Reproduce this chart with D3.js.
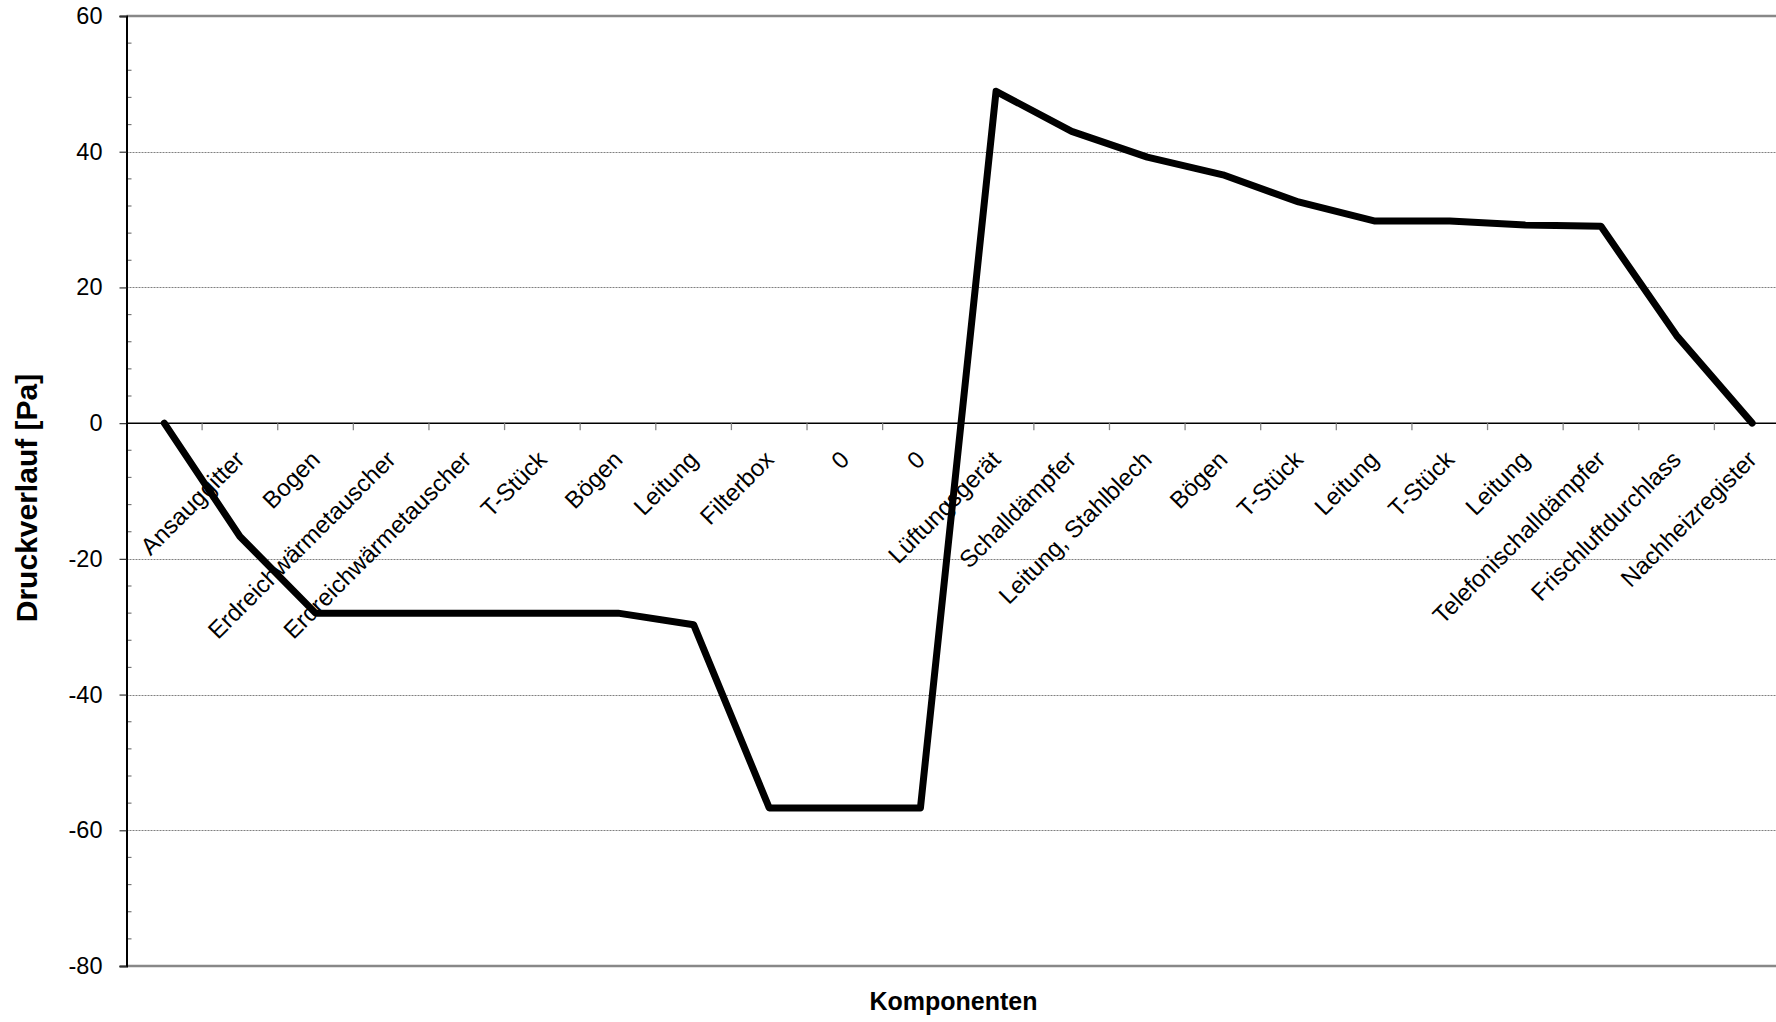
<!DOCTYPE html>
<html>
<head>
<meta charset="utf-8">
<script src="https://cdn.jsdelivr.net/npm/d3@7"></script>
<style>
  html, body { margin: 0; padding: 0; background: #fff; overflow: hidden; }
  svg { display: block; font-family: "Liberation Sans", Arial, sans-serif; }
</style>
</head>
<body>
<svg id="chart" width="1776" height="1022"></svg>
<script>
// ---- data ----
const categories = ["", "Ansauggitter", "Bogen", "Erdreichwärmetauscher", "Erdreichwärmetauscher",
  "T-Stück", "Bögen", "Leitung", "Filterbox", "0", "0", "Lüftungsgerät", "Schalldämpfer",
  "Leitung, Stahlblech", "Bögen", "T-Stück", "Leitung", "T-Stück", "Leitung",
  "Telefonischalldämpfer", "Frischluftdurchlass", "Nachheizregister"];
const pressure = [0, -16.7, -28, -28, -28, -28, -28, -29.7, -56.7, -56.7, -56.7,
  48.9, 43.0, 39.2, 36.6, 32.6, 29.8, 29.8, 29.2, 29.0, 12.9, 0];
const yMajorTicks = [-80, -60, -40, -20, 0, 20, 40, 60];
const yTitle = "Druckverlauf [Pa]";
const xTitle = "Komponenten";

// ---- layout ----
const svg = d3.select("#chart");
const mLeft = 126.5, mRight = 1790, mTop = 16, mBottom = 966;

const x = d3.scaleBand().domain(d3.range(categories.length)).range([mLeft, mRight]).padding(0);
const y = d3.scaleLinear().domain([-80, 60]).range([mBottom, mTop]);
const cx = i => x(i) + x.bandwidth() / 2;

svg.append("rect").attr("width", 1776).attr("height", 1022).attr("fill", "#fff");

// gridlines (dotted)
svg.append("g").selectAll("line")
  .data(yMajorTicks.filter(v => v !== 0 && v !== 60 && v !== -80))
  .join("line")
  .attr("x1", mLeft).attr("x2", mRight)
  .attr("y1", d => Math.round(y(d)) + 0.5).attr("y2", d => Math.round(y(d)) + 0.5)
  .attr("stroke", "#808080").attr("stroke-width", 1).attr("stroke-dasharray", "2,1");

// plot border top/bottom (gray)
svg.append("line").attr("x1", mLeft).attr("x2", mRight).attr("y1", y(60)).attr("y2", y(60))
  .attr("stroke", "#888").attr("stroke-width", 2.5);
svg.append("line").attr("x1", mLeft).attr("x2", mRight).attr("y1", y(-80)).attr("y2", y(-80))
  .attr("stroke", "#888").attr("stroke-width", 2.5);

// minor ticks on y axis (inside, gray)
const minorTicks = d3.range(-80, 60.01, 4).filter(v => v % 20 !== 0);
svg.append("g").selectAll("line").data(minorTicks).join("line")
  .attr("x1", mLeft).attr("x2", mLeft + 5)
  .attr("y1", d => y(d)).attr("y2", d => y(d))
  .attr("stroke", "#777").attr("stroke-width", 1.2);

// y axis
const yAxis = d3.axisLeft(y).tickValues(yMajorTicks).tickSize(7).tickPadding(17)
  .tickFormat(d => d < 0 ? "-" + Math.abs(d) : String(d));
const gy = svg.append("g").attr("transform", `translate(${mLeft},0)`).call(yAxis);
gy.select(".domain").attr("stroke", "#000").attr("stroke-width", 2);
gy.selectAll(".tick line").attr("stroke", "#333").attr("stroke-width", 1.2);
gy.selectAll(".tick text").attr("font-size", 23.5).attr("fill", "#000")
  .attr("font-family", "'Liberation Sans', Arial, sans-serif");

// x axis at zero with ticks at category boundaries
svg.append("line").attr("x1", mLeft).attr("x2", mRight).attr("y1", y(0)).attr("y2", y(0))
  .attr("stroke", "#000").attr("stroke-width", 1.5);
svg.append("g").selectAll("line").data(d3.range(1, categories.length)).join("line")
  .attr("x1", d => x(d)).attr("x2", d => x(d))
  .attr("y1", y(0)).attr("y2", y(0) + 7)
  .attr("stroke", "#888").attr("stroke-width", 1.3);

// category labels (rotated -45)
svg.append("g").selectAll("text").data(categories).join("text")
  .attr("transform", (d, i) => `translate(${cx(i)},${y(0) + 32}) rotate(-45)`)
  .attr("text-anchor", "end")
  .attr("dy", "0.35em")
  .attr("font-size", 24)
  .attr("fill", "#000")
  .text(d => d);

// data line
const line = d3.line().x((d, i) => cx(i)).y(d => y(d));
svg.append("path").datum(pressure)
  .attr("d", line)
  .attr("fill", "none").attr("stroke", "#000").attr("stroke-width", 7)
  .attr("stroke-linejoin", "round").attr("stroke-linecap", "round");

// titles
svg.append("text")
  .attr("transform", `translate(37,${(mTop + mBottom) / 2 + 7}) rotate(-90)`)
  .attr("text-anchor", "middle").attr("font-weight", "bold").attr("font-size", 30)
  .text(yTitle);
svg.append("text")
  .attr("x", 953.5).attr("y", 1010)
  .attr("text-anchor", "middle").attr("font-weight", "bold").attr("font-size", 25)
  .text(xTitle);
</script>
</body>
</html>
